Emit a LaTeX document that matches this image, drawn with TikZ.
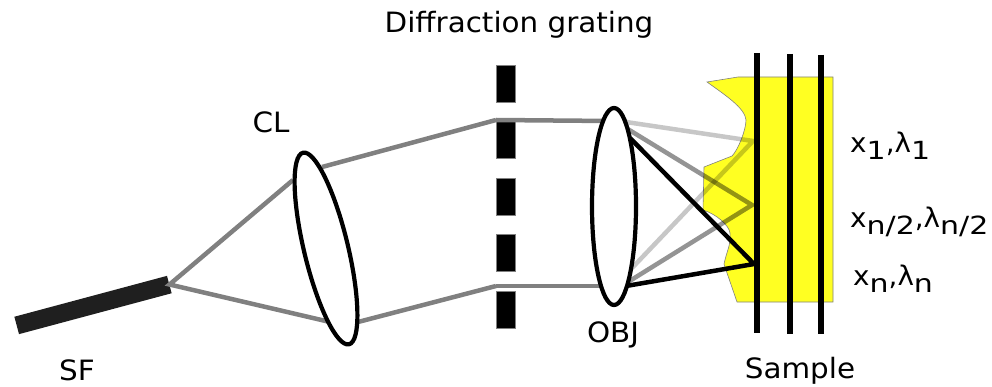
\documentclass[tikz,border=0pt]{standalone}
\usepackage{fontspec}
\setmainfont{DejaVu Sans}
\newfontfamily\widefont[FakeStretch=1.05]{DejaVu Sans}
\newfontfamily\wavefont[FakeStretch=1.03]{DejaVu Sans}
\newfontfamily\lowfont[FakeStretch=1.2]{DejaVu Sans}
\usetikzlibrary{shapes.geometric}
\definecolor{samplefill}{RGB}{255,255,34}
\newcommand{\lowtext}[1]{\raisebox{-7pt}{\fontsize{25}{28}\lowfont #1}}
\tikzset{
  label/.style={inner sep=0pt,anchor=base,font=\fontsize{28}{32}\widefont},
  wavelabel/.style={label,anchor=base west,font=\fontsize{27}{32}\wavefont},
  lens/.style={ellipse,draw=black,line width=4.2pt,fill=white,inner sep=0pt,
               minimum width=44pt,minimum height=197pt},
  slit/.style={fill=black,draw=gray,line width=0.5pt,inner sep=0pt,minimum width=19pt,minimum height=37pt},
  beam/.style={draw=gray,line width=4.5pt},
  rayone/.style={draw=black,opacity=0.22,line width=4.5pt},
  raytwo/.style={draw=black,opacity=0.42,line width=4.5pt},
  raythree/.style={draw=black,line width=4.5pt},
  film/.style={draw=black,line width=5.5pt}
}
\begin{document}
\begin{tikzpicture}[x=1pt,y=-1pt]
  \useasboundingbox (0,0) rectangle (992,387);
  \filldraw[draw=gray,line width=0.6pt,fill=samplefill]
    (707,82) -- (738,77) -- (833,77) -- (833,302) -- (737,302) -- (726,270)
    -- (724,264) .. controls (727,250) and (731,245) .. (730,233)
    .. controls (729,225) and (716,214) .. (703,210)
    -- (704,167) -- (732,156)
    .. controls (738,150) and (746,130) .. (746,120)
    .. controls (745,108) and (725,95) .. (707,82) -- cycle;
  \node[rectangle,fill=black!88,inner sep=0pt,minimum width=158pt,minimum height=18pt,rotate=15]
    (sf) at (93,305) {};
  \coordinate (cltop) at (293,180);
  \coordinate (clbot) at (330,322);
  \coordinate (cloutt) at (322,167);
  \coordinate (cloutb) at (358,322);
  \coordinate (gtop) at (496,120);
  \coordinate (gbot) at (496,286);
  \coordinate (objt) at (610,121);
  \coordinate (objb) at (600,286);
  \coordinate (fone) at (753,141);
  \coordinate (ftwo) at (752,205);
  \coordinate (fthree) at (754,264);
  \draw[beam] (cltop) -- (sf.east) -- (clbot);
  \draw[beam] (cloutt) -- (gtop);
  \draw[beam] (cloutb) -- (gbot);
  \foreach \y/\name in {84/a,140/b,196.5/c,253/d,309.5/e}
    \node[slit] (slit\name) at (505.5,\y) {};
  \draw[beam] (gtop) -- (objt);
  \draw[beam] (gbot) -- (objb);
  \draw[rayone] (626,122) -- (fone) -- (632,268);
  \draw[raytwo] (626,128) -- (ftwo) -- (628,282);
  \draw[raythree,line join=miter] (630,138) -- (fthree) -- (626,286);
  \node[lens,rotate=13.5] (cl) at (326,248.5) {};
  \node[lens] (obj) at (614,206.5) {};
  \draw[film] (757,53) -- (757,333);
  \draw[film] (790,54) -- (790,334);
  \draw[film] (821,55) -- (821,334);
  \node[label] (grating) at (519,33) {Diffraction grating};
  \node[label] (cllabel) at (271,133) {CL};
  \node[label] (sflabel) at (77,380) {SF};
  \node[label] (objlabel) at (613,342) {OBJ};
  \node[label] (sample) at (800,378) {Sample};
  \node[wavelabel] (xone) at (850,153) {x\lowtext{1},λ\lowtext{1}};
  \node[wavelabel] (xtwo) at (850,228) {x\lowtext{n/2},λ\lowtext{n/2}};
  \node[wavelabel] (xthree) at (853,285) {x\lowtext{n},λ\lowtext{n}};
\end{tikzpicture}
\end{document}
